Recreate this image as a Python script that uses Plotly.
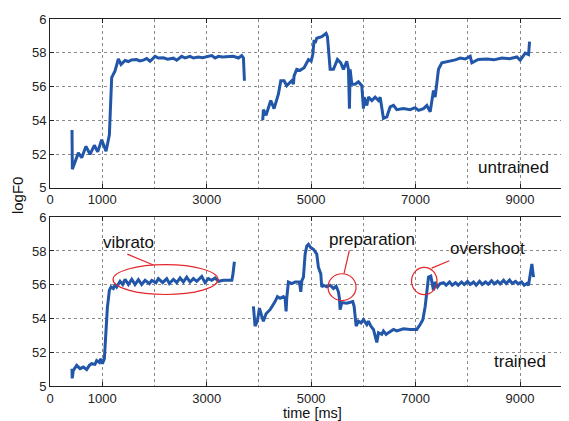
import plotly.graph_objects as go

# ---------------- data ----------------
untrained_a_time = [421, 428, 543, 607, 690, 766, 849, 913, 990, 1073, 1137, 1181, 1245, 1309, 1360, 1437,
                    1500, 1560, 1660, 1720, 1788, 1852, 1916, 2012, 2075, 2171, 2250, 2363, 2427, 2522,
                    2586, 2682, 2746, 2842, 2920, 3001, 3097, 3161, 3225, 3300, 3400, 3512, 3608, 3672,
                    3704, 3723]
untrained_a_logf0 = [5.343, 5.110, 5.207, 5.178, 5.246, 5.198, 5.252, 5.213, 5.285, 5.217, 5.314, 5.653,
                     5.692, 5.763, 5.731, 5.754, 5.748, 5.757, 5.760, 5.752, 5.756, 5.766, 5.750, 5.779,
                     5.769, 5.770, 5.762, 5.768, 5.756, 5.779, 5.769, 5.779, 5.769, 5.775, 5.771, 5.775,
                     5.783, 5.769, 5.779, 5.775, 5.778, 5.779, 5.769, 5.783, 5.769, 5.634]

untrained_b_time = [4074, 4086, 4137, 4227, 4291, 4374, 4419, 4482, 4533, 4629, 4661, 4674, 4725, 4789,
                    4866, 4949, 5000, 5032, 5057, 5076, 5108, 5204, 5287, 5313, 5364, 5428, 5504, 5568,
                    5619, 5683, 5715, 5734, 5747, 5779, 5843, 5906, 5970, 6002, 6015, 6066, 6098, 6162,
                    6226, 6290, 6322, 6385, 6449, 6513, 6577, 6641, 6769, 6896, 6992, 7056, 7152, 7216,
                    7280, 7343, 7375, 7439, 7503, 7599, 7663, 7760, 7854, 7950, 8046, 8078, 8200, 8365,
                    8500, 8653, 8800, 8940, 9004, 9100, 9164, 9183]
untrained_b_logf0 = [5.401, 5.463, 5.430, 5.517, 5.469, 5.556, 5.634, 5.634, 5.605, 5.634, 5.614, 5.663,
                     5.702, 5.696, 5.711, 5.760, 5.750, 5.789, 5.876, 5.857, 5.886, 5.895, 5.915, 5.895,
                     5.702, 5.702, 5.760, 5.740, 5.702, 5.750, 5.702, 5.469, 5.702, 5.614, 5.614, 5.628,
                     5.605, 5.469, 5.537, 5.488, 5.537, 5.517, 5.537, 5.517, 5.537, 5.411, 5.420, 5.479,
                     5.488, 5.463, 5.469, 5.463, 5.475, 5.459, 5.469, 5.488, 5.450, 5.576, 5.537, 5.702,
                     5.740, 5.746, 5.750, 5.758, 5.769, 5.763, 5.779, 5.740, 5.760, 5.763, 5.758, 5.769,
                     5.765, 5.775, 5.756, 5.798, 5.789, 5.866]

trained_a_time = [421, 425, 447, 511, 575, 639, 702, 754, 798, 862, 894, 945, 971, 1003, 1041, 1098, 1137,
                  1169, 1213, 1245, 1277, 1341, 1392, 1437, 1501, 1565, 1628, 1692, 1756, 1820, 1903, 1948,
                  2031, 2075, 2158, 2235, 2286, 2363, 2427, 2491, 2554, 2618, 2682, 2746, 2810, 2906, 2969,
                  3033, 3097, 3161, 3225, 3321, 3481, 3500, 3531]
trained_a_logf0 = [5.103, 5.045, 5.093, 5.122, 5.103, 5.112, 5.097, 5.122, 5.132, 5.128, 5.151, 5.140,
                   5.161, 5.132, 5.161, 5.461, 5.568, 5.587, 5.578, 5.601, 5.587, 5.620, 5.601, 5.632,
                   5.601, 5.632, 5.601, 5.630, 5.601, 5.626, 5.607, 5.626, 5.612, 5.636, 5.612, 5.636,
                   5.607, 5.632, 5.612, 5.640, 5.616, 5.645, 5.616, 5.636, 5.620, 5.649, 5.612, 5.636,
                   5.626, 5.640, 5.620, 5.626, 5.626, 5.655, 5.736]

trained_b_time = [3895, 3927, 3971, 4010, 4055, 4086, 4137, 4214, 4310, 4355, 4406, 4470, 4502, 4521,
                  4533, 4565, 4629, 4693, 4776, 4802, 4821, 4853, 4885, 4917, 4949, 4993, 5044, 5108,
                  5140, 5185, 5204, 5236, 5300, 5364, 5428, 5479, 5523, 5542, 5555, 5587, 5683, 5798,
                  5824, 5862, 5906, 5957, 6002, 6066, 6098, 6143, 6194, 6226, 6258, 6290, 6353, 6385,
                  6437, 6481, 6577, 6641, 6769, 6896, 7024, 7088, 7139, 7184, 7216, 7248, 7292, 7343,
                  7375, 7420, 7471, 7535, 7586, 7650, 7701, 7765, 7816, 7880, 7931, 7995, 8046, 8110,
                  8161, 8225, 8276, 8340, 8391, 8455, 8506, 8570, 8621, 8685, 8736, 8799, 8851, 8914,
                  8965, 9029, 9080, 9132, 9163, 9195, 9227, 9246, 9259]
trained_b_logf0 = [5.471, 5.355, 5.384, 5.461, 5.413, 5.384, 5.428, 5.452, 5.500, 5.529, 5.519, 5.529,
                   5.519, 5.442, 5.519, 5.616, 5.607, 5.616, 5.616, 5.558, 5.622, 5.645, 5.781, 5.829,
                   5.839, 5.820, 5.810, 5.781, 5.703, 5.665, 5.587, 5.597, 5.587, 5.597, 5.578, 5.591,
                   5.558, 5.519, 5.452, 5.494, 5.490, 5.500, 5.471, 5.355, 5.384, 5.374, 5.393, 5.364,
                   5.384, 5.355, 5.335, 5.287, 5.258, 5.316, 5.306, 5.326, 5.306, 5.316, 5.335, 5.326,
                   5.339, 5.335, 5.335, 5.364, 5.393, 5.471, 5.548, 5.645, 5.651, 5.568, 5.616, 5.587,
                   5.607, 5.612, 5.597, 5.616, 5.597, 5.612, 5.597, 5.616, 5.601, 5.620, 5.601, 5.616,
                   5.597, 5.620, 5.601, 5.616, 5.603, 5.624, 5.605, 5.620, 5.605, 5.626, 5.607, 5.628,
                   5.607, 5.620, 5.605, 5.616, 5.597, 5.607, 5.597, 5.655, 5.723, 5.674, 5.645]

y_tickvals = [5.0, 5.2, 5.4, 5.6, 5.8, 6.0]
y_ticktext = ["5", "52", "54", "56", "58", "6"]
x_tickvals = [0, 1000, 3000, 5000, 7000, 9000]
x_ticktext = ["0", "1000", "3000", "5000", "7000", "9000"]

# ---------------- figure ----------------
BLUE = "#2256a8"
RED = "#e3262b"
FONT = "Liberation Sans, Arial, sans-serif"

fig = go.Figure()
for xs, ys, xa, ya in [(untrained_a_time, untrained_a_logf0, "x", "y"),
                       (untrained_b_time, untrained_b_logf0, "x", "y"),
                       (trained_a_time, trained_a_logf0, "x2", "y2"),
                       (trained_b_time, trained_b_logf0, "x2", "y2")]:
    fig.add_trace(go.Scatter(x=xs, y=ys, xaxis=xa, yaxis=ya, mode="lines",
                             line=dict(color=BLUE, width=3), showlegend=False,
                             hoverinfo="skip"))

xcommon = dict(range=[0, 9938], tickvals=x_tickvals, ticktext=x_ticktext,
               showgrid=True, gridcolor="#8a8a8a", griddash="dot", gridwidth=1,
               minor=dict(tick0=0, dtick=1000, showgrid=True, gridcolor="#8a8a8a",
                          griddash="dot", gridwidth=1, ticks=""),
               showline=True, linecolor="#222", linewidth=1, mirror="ticks",
               ticks="inside", ticklen=4, tickcolor="#222", zeroline=False,
               tickfont=dict(family=FONT, size=13, color="#222"))
ycommon = dict(range=[5.0, 6.0], tickvals=y_tickvals, ticktext=y_ticktext,
               showgrid=True, gridcolor="#8a8a8a", griddash="dot", gridwidth=1,
               showline=True, linecolor="#222", linewidth=1, mirror=False,
               ticks="inside", ticklen=4, tickcolor="#222", zeroline=False,
               tickfont=dict(family=FONT, size=13, color="#222"))

# the page body adds an 8px offset, so margins are reduced accordingly
fig.update_layout(
    width=569, height=421,
    margin=dict(l=42, r=8, t=4, b=43),
    paper_bgcolor="white", plot_bgcolor="white",
    xaxis=dict(domain=[0, 1], anchor="y", **xcommon),
    yaxis=dict(domain=[0.540, 1.0], anchor="x", **ycommon),
    xaxis2=dict(domain=[0, 1], anchor="y2", **xcommon),
    yaxis2=dict(domain=[0.0, 0.46], anchor="x2", **ycommon),
    font=dict(family=FONT, color="#222"),
)

ann_font = dict(family=FONT, size=17, color="#111")
fig.add_annotation(x=8866, y=5.122, xref="x", yref="y", text="untrained", showarrow=False, font=ann_font)
fig.add_annotation(x=9000, y=5.145, xref="x2", yref="y2", text="trained", showarrow=False, font=ann_font)
fig.add_annotation(x=1494, y=5.849, xref="x2", yref="y2", text="vibrato", showarrow=False, font=ann_font)
fig.add_annotation(x=6166, y=5.866, xref="x2", yref="y2", text="preparation", showarrow=False, font=ann_font)
fig.add_annotation(x=8368, y=5.814, xref="x2", yref="y2", text="overshoot", showarrow=False, font=ann_font)
fig.add_annotation(x=0.505, y=-0.074, xref="paper", yref="paper", text="time [ms]", showarrow=False,
                   xanchor="center", yanchor="middle",
                   font=dict(family=FONT, size=14.5, color="#111"))
fig.add_annotation(x=-0.063, y=0.521, xref="paper", yref="paper", text="logF0", showarrow=False,
                   xanchor="center", yanchor="middle", textangle=-90,
                   font=dict(family=FONT, size=15, color="#111"))

# red annotation marks
fig.add_shape(type="circle", xref="x2", yref="y2", x0=1207, x1=3218, y0=5.542, y1=5.719,
              line=dict(color=RED, width=1.2))
fig.add_shape(type="circle", xref="x2", yref="y2", x0=5324, x1=5860, y0=5.506, y1=5.665,
              line=dict(color=RED, width=1.2))
fig.add_shape(type="circle", xref="x2", yref="y2", x0=6923, x1=7411, y0=5.541, y1=5.703,
              line=dict(color=RED, width=1.2))
fig.add_shape(type="line", xref="x2", yref="y2", x0=1481, y0=5.781, x1=1979, y1=5.717,
              line=dict(color=RED, width=1.2))
fig.add_shape(type="line", xref="x2", yref="y2", x0=5732, y0=5.804, x1=5630, y1=5.665,
              line=dict(color=RED, width=1.2))
fig.add_shape(type="line", xref="x2", yref="y2", x0=7647, y0=5.742, x1=7309, y1=5.698,
              line=dict(color=RED, width=1.2))

fig.write_html("out.html")
